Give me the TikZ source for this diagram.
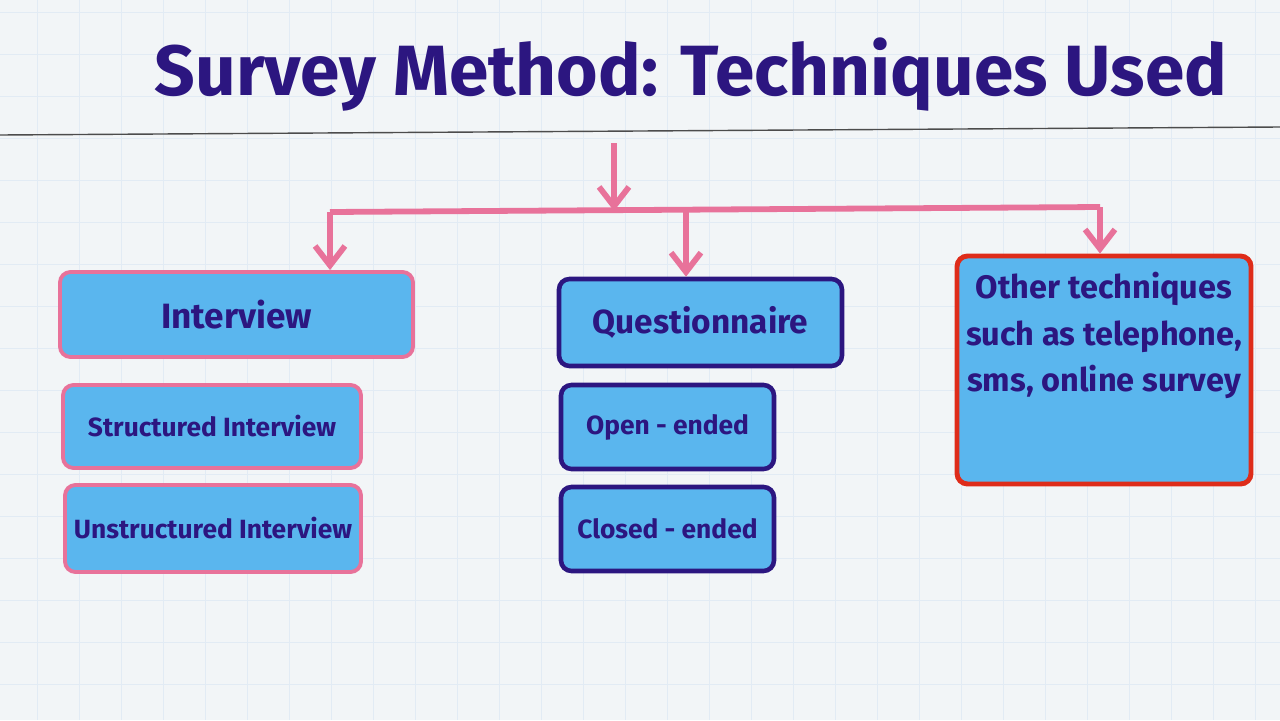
\documentclass[tikz,border=0pt]{standalone}
\usepackage{fontspec}
\setmainfont{Fira Sans}
\usetikzlibrary{arrows.meta,positioning}
\definecolor{boxblue}{RGB}{90,182,238}
\definecolor{linkpink}{RGB}{232,114,154}
\definecolor{inkblue}{RGB}{44,22,128}
\definecolor{alertred}{RGB}{222,44,26}
\definecolor{paper}{RGB}{242,245,247}
\definecolor{gridblue}{RGB}{226,235,244}
\newcommand\pxu{0.02cm}
\tikzset{%
  topic/.style   = {shape=rectangle, rounded corners=6pt,%
                    draw, fill=boxblue, text=inkblue,%
                    line width=2.2pt, inner sep=0pt},%
  pinkbox/.style = {topic, draw=linkpink},%
  inkbox/.style  = {topic, draw=inkblue, line width=2.6pt},%
  redbox/.style  = {topic, draw=alertred, line width=2.8pt},%
  link/.style    = {draw=linkpink, line width=3.3pt},%
  drop/.style    = {link, -{Straight Barb[length=11pt,width=17pt]}},%
  gridline/.style= {draw=gridblue, line width=0.5pt}%
}

\begin{document}
\begin{tikzpicture}[x=\pxu, y=-\pxu]
	\useasboundingbox (0,0) rectangle (1280,720);
	\fill[paper] (0,0) rectangle (1280,720);
	\foreach \gx in {37,79,...,1280} \draw[gridline] (\gx,0) -- (\gx,720);
	\foreach \gy in {12,54,...,720} \draw[gridline] (0,\gy) -- (1280,\gy);
	\draw[black!70, line width=0.8pt] (0,135) -- (1280,127);
	\node[anchor=base, text=inkblue, font=\bfseries\fontsize{40.5}{48}\selectfont] (title) at (691,95) {Survey Method: Techniques Used};
	% boxes
	\node[pinkbox, minimum width=353*\pxu, minimum height=85*\pxu, font=\bfseries\fontsize{20}{24}\selectfont] (interview) at (236.5,314.5) {Interview};
	\node[pinkbox, minimum width=298*\pxu, minimum height=83*\pxu, font=\bfseries\fontsize{15}{18}\selectfont] (structured) at (212,426.5) {Structured Interview};
	\node[pinkbox, minimum width=296*\pxu, minimum height=87*\pxu, font=\bfseries\fontsize{15}{18}\selectfont] (unstructured) at (213,528.5) {Unstructured Interview};
	\node[inkbox, minimum width=283*\pxu, minimum height=87*\pxu, font=\bfseries\fontsize{19}{23}\selectfont] (quest) at (700.5,322.5) {Questionnaire};
	\node[inkbox, minimum width=213*\pxu, minimum height=84*\pxu, font=\bfseries\fontsize{15}{18}\selectfont] (openend) at (667.5,427) {Open - ended};
	\node[inkbox, minimum width=213*\pxu, minimum height=84*\pxu, font=\bfseries\fontsize{15}{18}\selectfont] (closeend) at (667.5,529) {Closed - ended};
	\node[redbox, minimum width=294*\pxu, minimum height=228*\pxu] (other) at (1104,370) {};
	\node[below=7pt of other.north, align=center, text=inkblue, font=\bfseries\fontsize{18.5}{26.6}\selectfont] (othertext) {Other techniques\\such as telephone,\\sms, online survey};
	% connectors
	\coordinate (src) at (614,143);
	\coordinate (hub) at (614,211);
	\coordinate (barL) at (330,212);
	\coordinate (barM) at (686,211);
	\coordinate (barR) at (1100,207);
	\draw[drop] (src) -- (hub);
	\draw[link] (barL) -- (barR);
	\draw[drop] (barL) -- (barL |- interview.north);
	\draw[drop] (barM) -- (barM |- quest.north);
	\draw[drop] (barR) -- (barR |- other.north);
\end{tikzpicture}
\end{document}
